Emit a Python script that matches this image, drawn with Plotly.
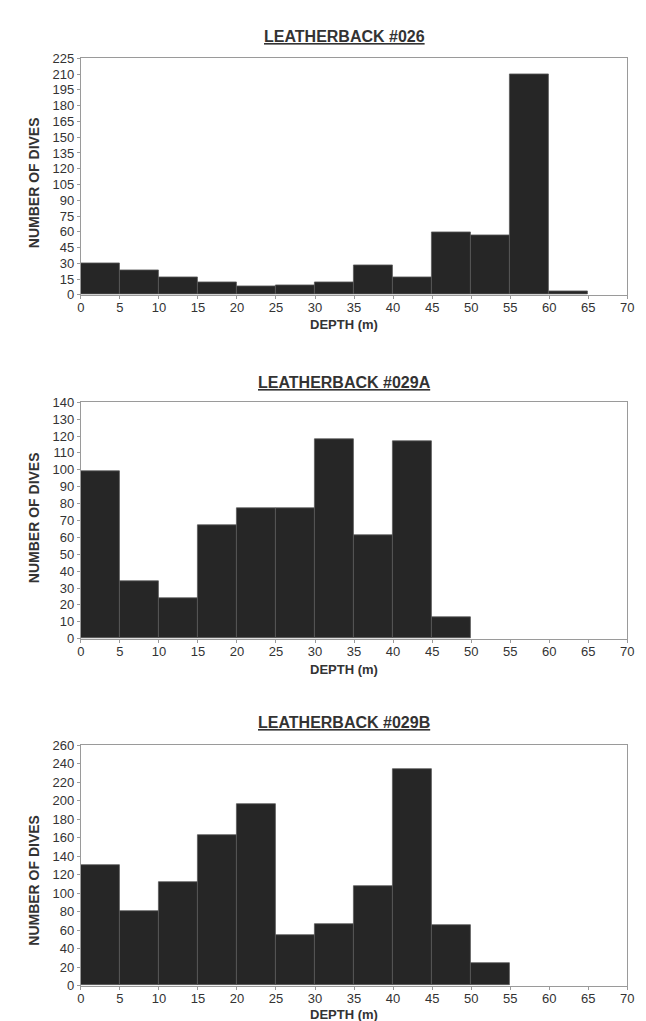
import plotly.graph_objects as go

# ---- data ----
bin_starts = [0, 5, 10, 15, 20, 25, 30, 35, 40, 45, 50, 55, 60, 65]
bin_width = 5

dives_026 = [30, 23, 17, 12, 8, 9, 12, 28, 17, 59, 57, 210, 3, 0]
dives_029A = [99, 34, 24, 67, 77, 77, 118, 61, 117, 13, 0, 0, 0, 0]
dives_029B = [130, 80, 112, 163, 196, 54, 66, 107, 234, 65, 24, 0, 0, 0]

titles = ["LEATHERBACK #026", "LEATHERBACK #029A", "LEATHERBACK #029B"]
y_max = [225, 140, 260]
y_step = [15, 10, 20]
x_tick_vals = list(range(0, 75, 5))

# ---- layout (pixels) ----
W, H = 646, 1021
plot_left, plot_right = 70, 626
panels_px = [(44, 284), (393, 633), (741, 985)]  # top, bottom
title_y_px = [22, 373, 718]
xtitle_y_px = [314, 664, 1014]
ytitle_y_px = [170, 510, 878]

FONT = "Liberation Sans, Arial, sans-serif"
TXT = "#333333"


def py(px):
    return 1 - px / H


fig = go.Figure()
series = [dives_026, dives_029A, dives_029B]
annotations = []
for i, vals in enumerate(series):
    n = "" if i == 0 else str(i + 1)
    line_w = [0.8 if v > 0 else 0 for v in vals]
    fig.add_trace(go.Bar(
        x=bin_starts, y=vals, width=bin_width, offset=0,
        marker=dict(color="#262626", line=dict(color="#5a5a5a", width=line_w)),
        xaxis="x" + n, yaxis="y" + n, showlegend=False,
    ))
    top, bot = panels_px[i]
    axis_common = dict(
        showline=True, linecolor="#9a9a9a", linewidth=1, mirror=True,
        showgrid=False, zeroline=False,
        ticks="outside", ticklen=3, tickcolor="#9a9a9a",
        tickfont=dict(family=FONT, size=13, color=TXT),
    )
    fig.update_layout(**{
        "xaxis" + n: dict(
            domain=[plot_left / W, plot_right / W], range=[0, 70],
            tickvals=x_tick_vals, anchor="y" + n, ticklabelstandoff=-2,
            **axis_common),
        "yaxis" + n: dict(
            domain=[py(bot), py(top)], range=[0, y_max[i]],
            tickvals=list(range(0, y_max[i] + 1, y_step[i])),
            anchor="x" + n, ticklabelstandoff=0, **axis_common),
    })
    annotations.append(dict(
        text="<b><u>" + titles[i] + "</u></b>", xref="paper", yref="paper",
        x=338 / W, y=py(title_y_px[i]), showarrow=False,
        font=dict(family=FONT, size=16, color=TXT), xanchor="center", yanchor="middle"))
    annotations.append(dict(
        text="<b>DEPTH (m)</b>", xref="paper", yref="paper",
        x=338 / W, y=py(xtitle_y_px[i]), showarrow=False,
        font=dict(family=FONT, size=13, color=TXT), xanchor="center", yanchor="middle"))
    annotations.append(dict(
        text="<b>NUMBER OF DIVES</b>", xref="paper", yref="paper",
        x=22 / W, y=py(ytitle_y_px[i]), showarrow=False, textangle=-90,
        font=dict(family=FONT, size=14, color=TXT), xanchor="center", yanchor="middle"))

fig.update_layout(
    width=W, height=H,
    margin=dict(l=0, r=0, t=0, b=0),
    paper_bgcolor="white", plot_bgcolor="white",
    bargap=0, annotations=annotations,
)

fig.write_html("out.html")
